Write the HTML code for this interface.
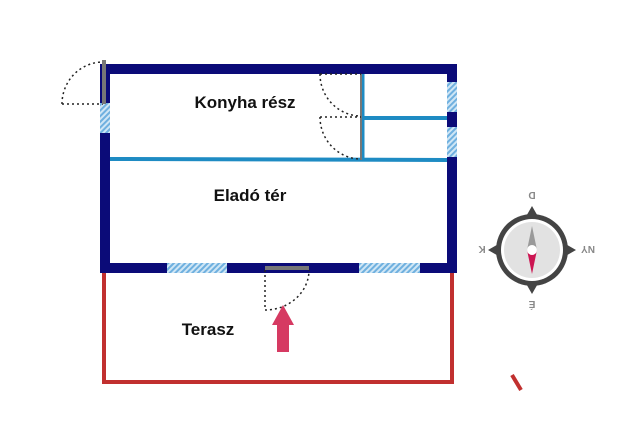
<!DOCTYPE html>
<html><head><style>body{margin:0;background:#fff}</style></head><body>
<svg width="640" height="426" xmlns="http://www.w3.org/2000/svg" font-family="Liberation Sans, DejaVu Sans, sans-serif">
<defs><pattern id="h" width="4" height="4" patternUnits="userSpaceOnUse" patternTransform="rotate(45)"><rect width="4" height="4" fill="#cfe6f5"/><rect width="2" height="4" fill="#6fb0df"/></pattern></defs>
<!-- terrace -->
<path d="M104 273 V382 H452 V273" fill="none" stroke="#c1302f" stroke-width="4"/>
<!-- walls -->
<rect x="105" y="69" width="347" height="199" fill="none" stroke="#0b0b78" stroke-width="10"/>
<rect x="100" y="103" width="10" height="30" fill="url(#h)"/>
<rect x="447" y="82" width="10" height="30" fill="url(#h)"/>
<rect x="447" y="127" width="10" height="30" fill="url(#h)"/>
<rect x="167" y="263" width="60" height="10" fill="url(#h)"/>
<rect x="359" y="263" width="61" height="10" fill="url(#h)"/>
<!-- inner walls -->
<line x1="110" y1="159" x2="447" y2="160" stroke="#1e8bc3" stroke-width="4"/>
<line x1="362" y1="118" x2="447" y2="118" stroke="#1e8bc3" stroke-width="4"/>
<line x1="363" y1="74" x2="363" y2="160" stroke="#1e8bc3" stroke-width="3"/>
<line x1="361" y1="74" x2="361" y2="160" stroke="#777" stroke-width="2"/>
<!-- doors -->
<g fill="none" stroke="#222" stroke-width="1.5" stroke-dasharray="2 3">
<path d="M320 74 H361 M320 74 A41 42 0 0 0 361 116"/>
<path d="M320 117 H361 M320 117 A41 42 0 0 0 361 159"/>
<path d="M62 104 H103 M62 104 A41 42 0 0 1 103 62"/>
<path d="M265 270 V310 M265 310 A44 40 0 0 0 309 270"/>
</g>
<rect x="102" y="60" width="4" height="44" fill="#777"/>
<rect x="265" y="266" width="44" height="4" fill="#777"/>
<!-- arrow -->
<path d="M283 305 L294 325 H289 V352 H277 V325 H272 Z" fill="#d63a62"/>
<!-- labels -->
<g font-weight="bold" font-size="17" fill="#111" text-anchor="middle">
<text x="245" y="108">Konyha rész</text>
<text x="250" y="201">Eladó tér</text>
<text x="208" y="335">Terasz</text>
</g>
<!-- compass -->
<g transform="translate(532,250)">
<path d="M0 -44 L8 -30 L30 -8 L44 0 L30 8 L8 30 L0 44 L-8 30 L-30 8 L-44 0 L-30 -8 L-8 -30Z" fill="#444"/>
<circle r="36" fill="#444"/><circle r="31" fill="#fff"/><circle r="28" fill="#e2e2e2"/>
<path d="M-5 0 L0 -24 L5 0Z" fill="#999"/><path d="M-5 0 L0 24 L5 0Z" fill="#cc1552"/>
<circle r="5" fill="#fff"/>
<g font-size="10" font-weight="bold" fill="#888" text-anchor="middle">
<text x="0" y="-52" transform="rotate(180 0 -55)">D</text>
<text x="0" y="59" transform="rotate(180 0 55)">É</text>
<text x="-50" y="4" transform="rotate(180 -50 0)">K</text>
<text x="56" y="4" transform="rotate(180 56 0)">NY</text>
</g></g>
<line x1="512" y1="375" x2="521" y2="390" stroke="#c1302f" stroke-width="4"/>
</svg>
</body></html>
